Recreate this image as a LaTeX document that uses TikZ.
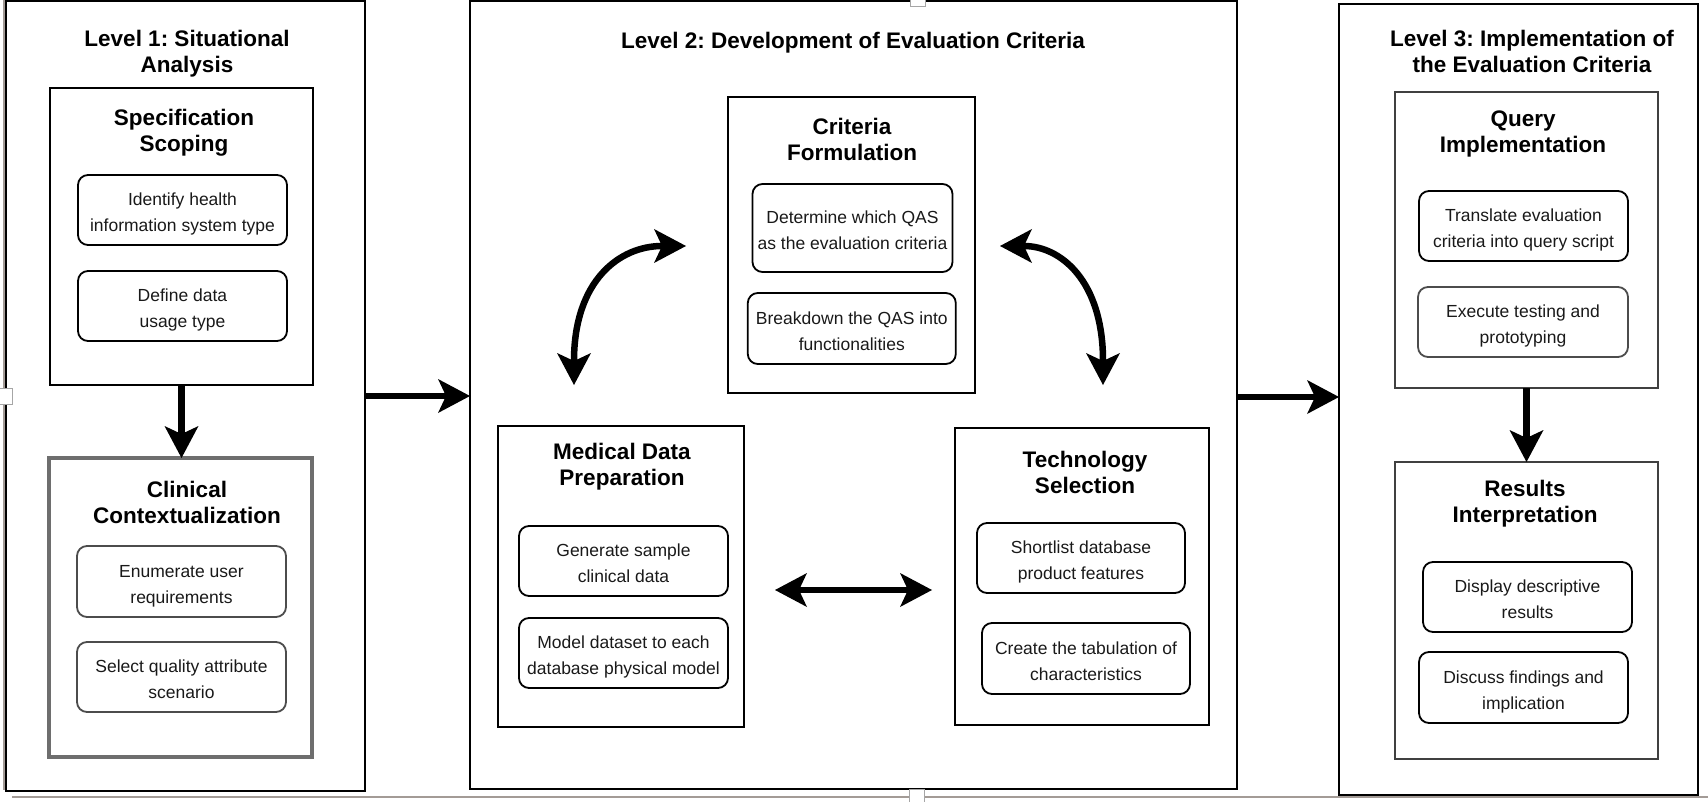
\documentclass[tikz,border=0pt]{standalone}
\usepackage{fontspec}
\setmainfont{Liberation Sans}
\usetikzlibrary{arrows.meta,calc}
\frenchspacing
\definecolor{edgegrey}{HTML}{A39B96}
\definecolor{boxgrey}{HTML}{6E6E6E}
\newcommand{\hdtwo}[2]{\rule{0pt}{20pt}#1\\#2\rule[-6pt]{0pt}{6pt}}
\newcommand{\txtwo}[2]{\rule{0pt}{21pt}#1\\#2\rule[-4pt]{0pt}{4pt}}
\tikzset{
  lvl/.style={draw=black, line width=2pt, inner sep=0pt, outer sep=0pt},
  grp/.style={draw=black, line width=2pt, inner sep=0pt, outer sep=0pt},
  grpgrey/.style={draw=boxgrey, line width=3.2pt, inner sep=0pt, outer sep=0pt},
  grpdark/.style={draw=black!75, line width=2.6pt, inner sep=0pt, outer sep=0pt},
  sub/.style={draw=black, line width=1.8pt, rounded corners=10pt, inner sep=0pt, outer sep=0pt,
    align=center, font=\fontsize{17.5}{26}\selectfont, text=black!90},
  subgrey/.style={sub, draw=black!70},
  hd/.style={inner sep=0pt, align=center, font=\fontsize{22.5}{26}\selectfont\bfseries},
  tipk/.tip={Stealth[length=32pt,width=34pt,inset=8pt,line width=0pt]},
  bigarrow/.style={line width=6.5pt, -tipk},
  dblarrow/.style={line width=6.5pt, tipk-tipk},
  handle/.style={draw=gray!70, fill=white, line width=0.8pt},
  pageedge/.style={draw=edgegrey, line width=2pt},
}
\begin{document}
\begin{tikzpicture}[x=1pt,y=-1pt]
\useasboundingbox (0,0) rectangle (1708,802);
% page edges
\draw[pageedge] (12,796.5) -- (1708,796.5);
\draw[pageedge] (3.5,0) -- (3.5,790);

% Level boxes
\node[lvl, minimum width=359pt, minimum height=790pt] (L1) at (185.5,396) {};
\node[lvl, minimum width=767pt, minimum height=788pt] (L2) at (853.5,395) {};
\node[lvl, minimum width=359pt, minimum height=791pt] (L3) at (1518.5,399.5) {};

\node[hd] (L1t) at (187,53) {\hdtwo{Level 1: Situational}{Analysis}};
\node[hd] (L2t) at (853,42) {\rule{0pt}{20pt}Level 2: Development of Evaluation Criteria\rule[-6pt]{0pt}{6pt}};
\node[hd] (L3t) at (1532,53) {\hdtwo{Level 3: Implementation of}{the Evaluation Criteria}};

% Level 1 groups
\node[grp, minimum width=263pt, minimum height=297pt] (spec) at (181.5,236.5) {};
\node[hd] (spect) at (184,132) {\hdtwo{Specification}{Scoping}};
\node[sub, minimum width=209pt, minimum height=70pt] (s1) at (182.5,210) {\txtwo{Identify health}{information system type}};
\node[sub, minimum width=209pt, minimum height=70pt] (s2) at (182.5,306) {\txtwo{Define data}{usage type}};

\node[grpgrey, minimum width=263pt, minimum height=299pt] (clin) at (180.5,607.5) {};
\node[hd] (clint) at (187,503) {\hdtwo{Clinical}{Contextualization}};
\node[subgrey, minimum width=209pt, minimum height=71pt] (s3) at (181.5,581.5) {\txtwo{Enumerate user}{requirements}};
\node[subgrey, minimum width=209pt, minimum height=70pt] (s4) at (181.5,677) {\txtwo{Select quality attribute}{scenario}};

% Level 2 groups
\node[grp, minimum width=247pt, minimum height=296pt] (crit) at (851.5,245) {};
\node[hd] (critt) at (852,141) {\hdtwo{Criteria}{Formulation}};
\node[sub, minimum width=200pt, minimum height=88pt] (c1) at (852.5,228) {\txtwo{Determine which QAS}{as the evaluation criteria}};
\node[sub, minimum width=208pt, minimum height=71pt] (c2) at (851.8,328.5) {\txtwo{Breakdown the QAS into}{functionalities}};

\node[grp, minimum width=246pt, minimum height=301pt] (med) at (621,576.5) {};
\node[hd] (medt) at (622,465) {\hdtwo{Medical Data}{Preparation}};
\node[sub, minimum width=209pt, minimum height=70pt] (m1) at (623.5,561) {\txtwo{Generate sample}{clinical data}};
\node[sub, minimum width=209pt, minimum height=70pt] (m2) at (623.5,653) {\txtwo{Model dataset to each}{database physical model}};

\node[grp, minimum width=254pt, minimum height=297pt] (tech) at (1082,576.5) {};
\node[hd] (techt) at (1085,473) {\hdtwo{Technology}{Selection}};
\node[sub, minimum width=208pt, minimum height=70pt] (t1) at (1081,558) {\txtwo{Shortlist database}{product features}};
\node[sub, minimum width=208pt, minimum height=71pt] (t2) at (1086,658.5) {\txtwo{Create the tabulation of}{characteristics}};

% Level 3 groups
\node[grpdark, minimum width=263pt, minimum height=296pt] (query) at (1526.5,240) {};
\node[hd] (queryt) at (1523,133) {\hdtwo{Query}{Implementation}};
\node[sub, minimum width=209pt, minimum height=70pt] (q1) at (1523.5,226) {\txtwo{Translate evaluation}{criteria into query script}};
\node[subgrey, minimum width=210pt, minimum height=70pt] (q2) at (1523,322) {\txtwo{Execute testing and}{prototyping}};

\node[grpdark, minimum width=263pt, minimum height=297pt] (res) at (1526.5,610.5) {};
\node[hd] (rest) at (1525,502) {\hdtwo{Results}{Interpretation}};
\node[sub, minimum width=209pt, minimum height=70pt] (r1) at (1527.5,597) {\txtwo{Display descriptive}{results}};
\node[sub, minimum width=209pt, minimum height=71pt] (r2) at (1523.5,687.5) {\txtwo{Discuss findings and}{implication}};

% connectors
\draw[bigarrow] (spec.south) -- (spec.south |- clin.north);
\draw[bigarrow] (L1.east) -- (L1.east -| L2.west);
\draw[bigarrow] (L2.east |- 0,397) -- (L3.west |- 0,397);
\draw[bigarrow] (query.south) -- (res.north);

\coordinate (cl) at ($(crit.west)+(-42,1)$);
\coordinate (ml) at ($(med.north)+(-47,-41)$);
\draw[dblarrow] (cl) .. controls ($(cl)+(-66,0)$) and ($(ml)+(0,-105)$) .. (ml);
\coordinate (cr) at ($(crit.east)+(25,1)$);
\coordinate (tr) at ($(tech.north)+(21,-43)$);
\draw[dblarrow] (cr) .. controls ($(cr)+(60,0)$) and ($(tr)+(0,-105)$) .. (tr);
\coordinate (mr) at ($(med.east)+(31,13.5)$);
\coordinate (tl) at ($(tech.west)+(-23,13.5)$);
\draw[dblarrow] (mr) -- (tl);

% selection handles
\draw[handle] (-1,388) rectangle (12,404);
\draw[handle] (910,-2) rectangle (925,6);
\draw[handle] (909,789) rectangle (924,804);
\end{tikzpicture}
\end{document}
